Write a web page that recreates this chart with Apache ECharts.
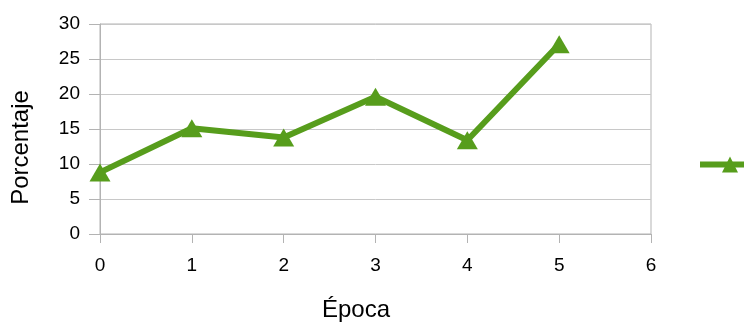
<!DOCTYPE html>
<html>
<head>
<meta charset="utf-8">
<script src="https://cdn.jsdelivr.net/npm/echarts@6/dist/echarts.min.js"></script>
<style>
  html, body { margin: 0; padding: 0; background: #fff; }
  #chart { width: 744px; height: 322px; }
</style>
</head>
<body>
<div id="chart"></div>
<script>
// Epochs on the x axis and percentage per epoch
const epochs = [0, 1, 2, 3, 4, 5];
const percentages = [8.8, 15.1, 13.8, 19.6, 13.4, 27.1];
const seriesName = 'Error de validación';

const points = epochs.map((e, i) => [e, percentages[i]]);

const gray = '#b3b3b3';
const green = '#579d1c';
const font = 'Liberation Sans, Arial, sans-serif';

const chart = echarts.init(document.getElementById('chart'));
chart.setOption({
  animation: false,
  backgroundColor: '#ffffff',
  grid: {
    left: 100, right: 93, top: 24, bottom: 88,
    outerBoundsMode: 'none',
    show: true, borderColor: gray, borderWidth: 1
  },
  legend: {
    left: 697, top: 155, padding: 0,
    itemWidth: 60, itemHeight: 20,
    lineStyle: { width: 6 },
    textStyle: { fontFamily: font, fontSize: 19, color: '#000' },
    data: [seriesName]
  },
  xAxis: {
    type: 'value', min: 0, max: 6, interval: 1,
    name: 'Época', nameLocation: 'middle', nameGap: 64,
    nameTextStyle: { fontFamily: font, fontSize: 24, color: '#000', padding: [0, 39, 0, 0] },
    axisLine: { show: true, lineStyle: { color: gray } },
    axisTick: { show: true, length: 9, lineStyle: { color: gray } },
    axisLabel: { fontFamily: font, fontSize: 19, color: '#000', margin: 22 },
    splitLine: { show: false }
  },
  yAxis: {
    type: 'value', min: 0, max: 30, interval: 5,
    name: 'Porcentaje', nameLocation: 'middle', nameGap: 67,
    nameTextStyle: { fontFamily: font, fontSize: 24, color: '#000', padding: [0, 37, 0, 0] },
    axisLine: { show: true, lineStyle: { color: gray } },
    axisTick: { show: true, length: 11, lineStyle: { color: gray } },
    axisLabel: { fontFamily: font, fontSize: 19, color: '#000', margin: 20 },
    splitLine: { show: true, lineStyle: { color: '#c8c8c8' } }
  },
  series: [{
    name: seriesName,
    type: 'line',
    data: points,
    symbol: 'triangle',
    symbolSize: [21, 18],
    itemStyle: { color: green },
    lineStyle: { color: green, width: 6 }
  }]
});
</script>
</body>
</html>
